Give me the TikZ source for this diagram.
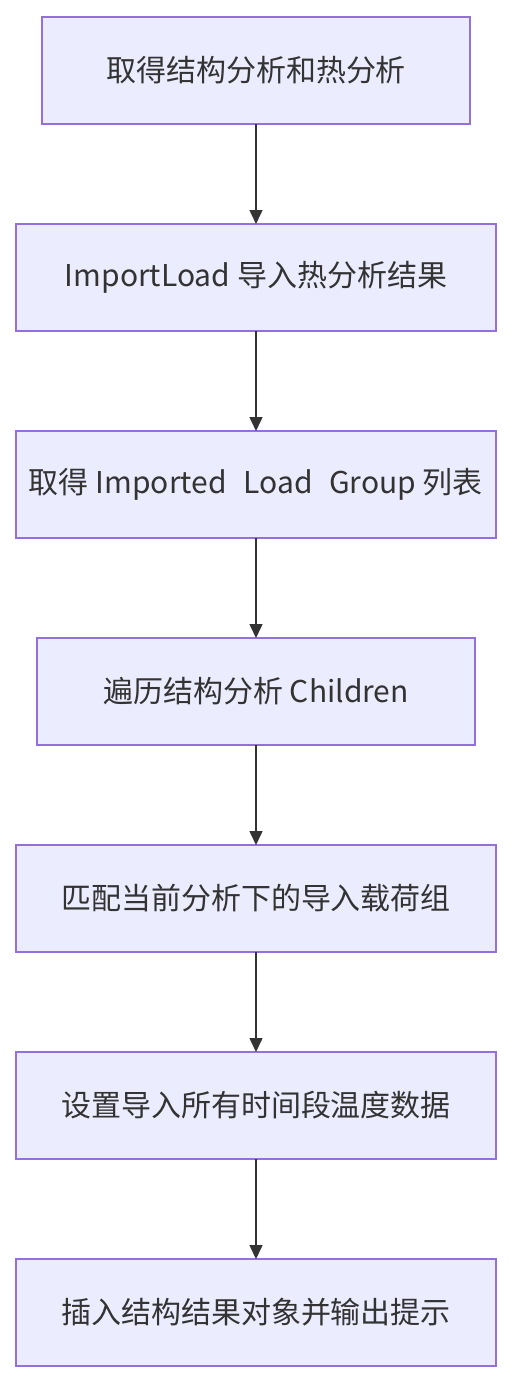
\documentclass[tikz,border=0pt]{standalone}
\usepackage{fontspec}
\setmainfont{Noto Sans CJK SC}
\usetikzlibrary{positioning,arrows.meta}
\definecolor{boxfill}{HTML}{ECECFF}
\definecolor{boxline}{HTML}{9370DB}
\definecolor{ink}{HTML}{333333}
\tikzset{
    stepbox/.style={draw=boxline, fill=boxfill, line width=1.5pt, minimum height=107pt,
        inner sep=0pt, outer sep=0pt, text=ink, font=\fontsize{30}{36}\selectfont},
    flow/.style={draw=ink, line width=1.5pt, -{Triangle[length=14pt,width=13pt]}}
}
\begin{document}
\begin{tikzpicture}
    % Define gap between boxes
    \def\gap{100pt}

    \useasboundingbox (0,0) rectangle (512pt,-1382pt);

    % Place steps
    \node[stepbox, minimum width=428pt] (getana) at (256pt,-70.5pt) {取得结构分析和热分析};
    \node[stepbox, minimum width=480pt, below=\gap of getana] (impload) {ImportLoad 导入热分析结果};
    \node[stepbox, minimum width=480pt, below=\gap of impload] (grplist) {取得 Imported\,\, Load\,\, Group 列表};
    \node[stepbox, minimum width=438pt, below=\gap of grplist] (children) {遍历结构分析 Children};
    \node[stepbox, minimum width=480pt, below=\gap of children] (match) {匹配当前分析下的导入载荷组};
    \node[stepbox, minimum width=480pt, below=\gap of match] (settemp) {设置导入所有时间段温度数据};
    \node[stepbox, minimum width=480pt, below=\gap of settemp] (insert) {插入结构结果对象并输出提示};

    % Connect steps
    \foreach \a/\b in {getana/impload, impload/grplist, grplist/children,
                       children/match, match/settemp, settemp/insert}
        \draw[flow] (\a) -- (\b);

\end{tikzpicture}
\end{document}
